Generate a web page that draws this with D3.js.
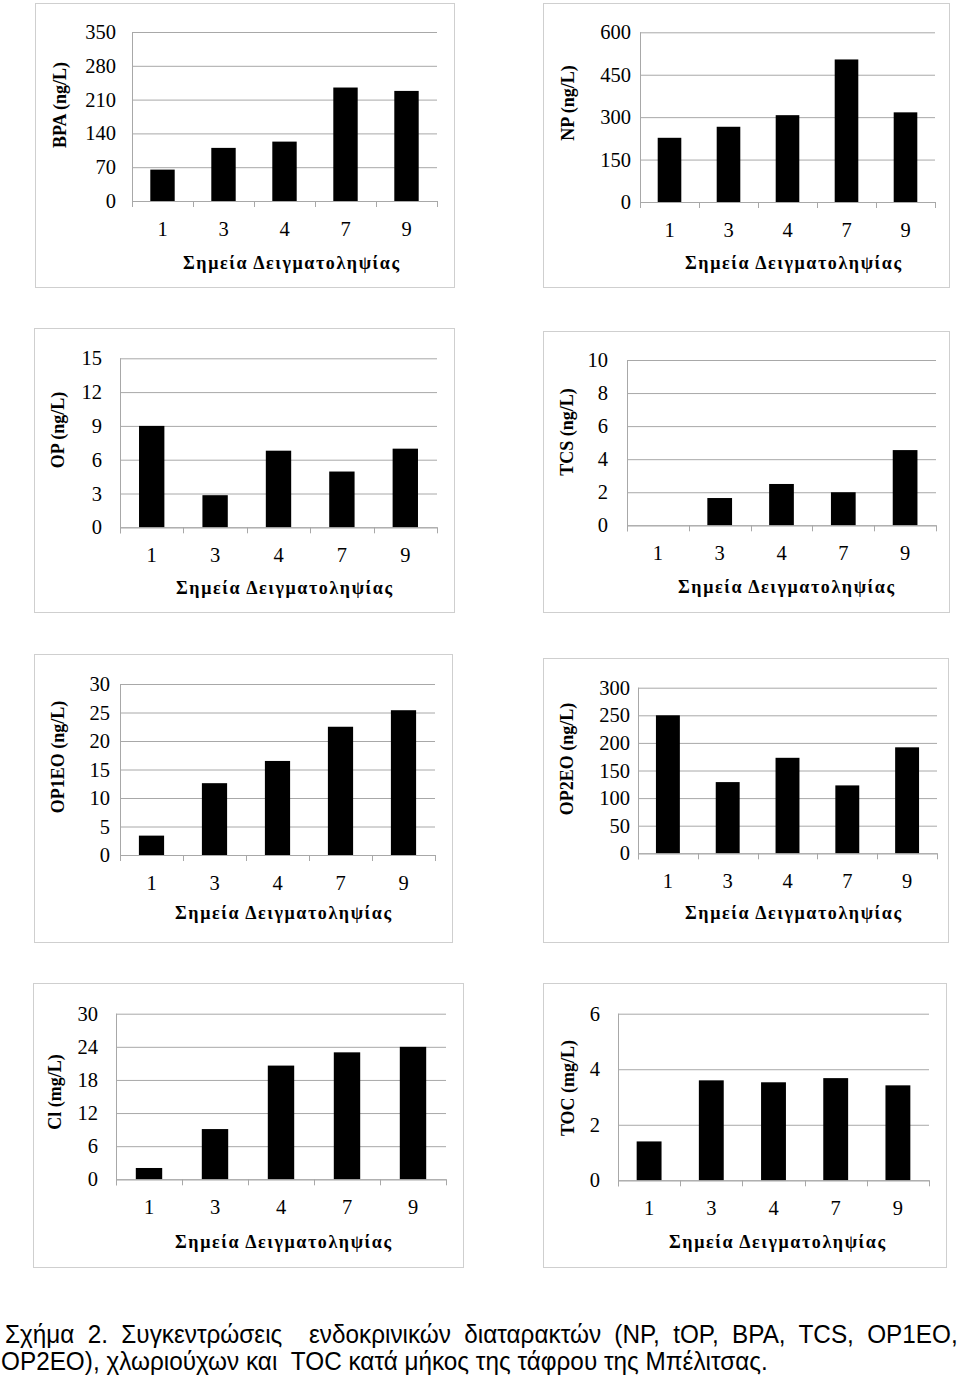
<!DOCTYPE html>
<html><head><meta charset="utf-8">
<script src="https://cdn.jsdelivr.net/npm/d3@7"></script>
<style>
html,body{margin:0;padding:0;background:#fff;}
svg{display:block;}
</style></head>
<body>
<svg id="chart" width="960" height="1379"></svg>
<script>
// ---- data ----
const categories = ["1", "3", "4", "7", "9"];
const bpaValues   = [65, 110, 123, 235, 228];
const npValues    = [227, 266, 307, 504, 317];
const opValues    = [9.0, 2.85, 6.8, 4.95, 6.98];
const tcsValues   = [0, 1.65, 2.5, 2.0, 4.55];
const op1eoValues = [3.4, 12.6, 16.5, 22.5, 25.4];
const op2eoValues = [250, 129, 173, 123, 192];
const clValues    = [2.05, 9.1, 20.6, 23.0, 24.0];
const tocValues   = [1.4, 3.6, 3.53, 3.68, 3.42];

const bpaTicks   = [0, 70, 140, 210, 280, 350];
const npTicks    = [0, 150, 300, 450, 600];
const opTicks    = [0, 3, 6, 9, 12, 15];
const tcsTicks   = [0, 2, 4, 6, 8, 10];
const op1eoTicks = [0, 5, 10, 15, 20, 25, 30];
const op2eoTicks = [0, 50, 100, 150, 200, 250, 300];
const clTicks    = [0, 6, 12, 18, 24, 30];
const tocTicks   = [0, 2, 4, 6];

const yTitles = ["BPA (ng/L)", "NP (ng/L)", "OP (ng/L)", "TCS (ng/L)",
                 "OP1EO (ng/L)", "OP2EO (ng/L)", "Cl (mg/L)", "TOC (mg/L)"];
const xTitle = "Σημεία Δειγματοληψίας";
const captionLine1 = "Σχήμα 2. Συγκεντρώσεις  ενδοκρινικών διαταρακτών (NP, tOP, BPA, TCS, OP1EO,";
const captionLine2 = "OP2EO), χλωριούχων και  TOC κατά μήκος της τάφρου της Μπέλιτσας.";

// ---- layout (positions only) ----
const panels = [
  {vals: bpaValues,   ticks: bpaTicks,   box:[35,3,454,287],    x0:132, x1:437, yT:32,    yB:201,    lblGap:16, ytx:60,  yty:105,  xtx:291, xty:263},
  {vals: npValues,    ticks: npTicks,    box:[543,3,949,287],   x0:640, x1:935, yT:32.3,  yB:202,    lblGap:9,  ytx:568, yty:103,  xtx:793, xty:263},
  {vals: opValues,    ticks: opTicks,    box:[34,328,454,612],  x0:120, x1:437, yT:358.3, yB:527.3,  lblGap:18, ytx:58,  yty:430,  xtx:284, xty:588},
  {vals: tcsValues,   ticks: tcsTicks,   box:[543,331,949,612], x0:627, x1:936, yT:360,   yB:525.3,  lblGap:19, ytx:567, yty:432,  xtx:786, xty:587},
  {vals: op1eoValues, ticks: op1eoTicks, box:[34,654,452,942],  x0:120, x1:435, yT:684,   yB:855,    lblGap:10, ytx:58,  yty:757,  xtx:283, xty:913},
  {vals: op2eoValues, ticks: op2eoTicks, box:[543,658,948,942], x0:638, x1:937, yT:687.7, yB:853.3,  lblGap:8,  ytx:567, yty:759,  xtx:793, xty:913},
  {vals: clValues,    ticks: clTicks,    box:[33,983,463,1267], x0:116, x1:446, yT:1013.7,yB:1179.3, lblGap:18, ytx:55,  yty:1092, xtx:283, xty:1242},
  {vals: tocValues,   ticks: tocTicks,   box:[543,983,946,1267],x0:618, x1:929, yT:1013.7,yB:1180.3, lblGap:18, ytx:568, yty:1088, xtx:777, xty:1242}
];

const svg = d3.select("#chart");
const serif = "'Liberation Serif','Times New Roman',serif";
const gridColor = "#a8a8a8";

panels.forEach((p, i) => {
  const g = svg.append("g");
  g.append("rect")
    .attr("x", p.box[0] + 0.5).attr("y", p.box[1] + 0.5)
    .attr("width", p.box[2] - p.box[0]).attr("height", p.box[3] - p.box[1])
    .attr("fill", "#fff").attr("stroke", "#cfcfcf").attr("stroke-width", 1);

  const y = d3.scaleLinear()
    .domain([0, d3.max(p.ticks)])
    .range([p.yB, p.yT]);
  const x = d3.scaleBand()
    .domain(categories)
    .range([p.x0, p.x1])
    .paddingInner(0.6).paddingOuter(0.3);

  const grid = g.append("g").attr("transform", `translate(${p.x0},0)`)
    .call(d3.axisLeft(y).tickValues(p.ticks).tickSize(-(p.x1 - p.x0)).tickFormat(""));
  grid.select(".domain").remove();
  grid.selectAll(".tick line").attr("stroke", gridColor).attr("stroke-width", 1);

  const yl = g.append("g").attr("transform", `translate(${p.x0},0)`)
    .call(d3.axisLeft(y).tickValues(p.ticks).tickSize(0).tickPadding(p.lblGap).tickFormat(d3.format("d")));
  yl.select(".domain").remove();
  yl.selectAll("text").attr("font-family", serif).attr("font-size", 20.5).attr("fill", "#000");

  g.append("line").attr("x1", p.x0 + 0.5).attr("x2", p.x0 + 0.5)
    .attr("y1", p.yT).attr("y2", p.yB + 6)
    .attr("stroke", gridColor).attr("stroke-width", 1);

  g.selectAll("rect.bar").data(p.vals).join("rect")
    .attr("class", "bar")
    .attr("x", (d, k) => x(categories[k]))
    .attr("width", x.bandwidth())
    .attr("y", d => y(d))
    .attr("height", d => y(0) - y(d))
    .attr("fill", "#000");

  const xb = g.append("g").attr("transform", `translate(0,${p.yB})`)
    .call(d3.axisBottom(x).tickSize(0).tickPadding(20));
  xb.select(".domain").attr("stroke", gridColor);
  xb.selectAll("text").attr("font-family", serif).attr("font-size", 20.5).attr("fill", "#000");
  const step = x.step();
  g.selectAll("line.xt").data(d3.range(categories.length + 1)).join("line")
    .attr("class", "xt")
    .attr("x1", k => Math.round(p.x0 + k * step) + 0.5)
    .attr("x2", k => Math.round(p.x0 + k * step) + 0.5)
    .attr("y1", p.yB).attr("y2", p.yB + 6)
    .attr("stroke", gridColor);

  g.append("text")
    .attr("transform", `translate(${p.ytx},${p.yty}) rotate(-90)`)
    .attr("text-anchor", "middle").attr("dominant-baseline", "central")
    .attr("font-family", serif).attr("font-weight", "bold").attr("font-size", 18)
    .text(yTitles[i]);

  g.append("text")
    .attr("x", p.xtx).attr("y", p.xty)
    .attr("text-anchor", "middle").attr("dominant-baseline", "central")
    .attr("font-family", serif).attr("font-weight", "bold").attr("font-size", 18)
    .attr("textLength", 216).attr("lengthAdjust", "spacing")
    .text(xTitle);
});

// caption (condensed sans: scaled horizontally, first line justified)
const capFont = "'Liberation Sans',Arial,sans-serif";
const capG = svg.append("g");
const c2 = capG.append("text").attr("x", 0).attr("y", 1370)
  .attr("font-family", capFont).attr("font-size", 25).attr("fill", "#000")
  .style("white-space", "pre").text(captionLine2);
const sx = 767 / c2.node().getComputedTextLength();
c2.attr("transform", `translate(1,0) scale(${sx},1)`);
const c1 = capG.append("text").attr("x", 0).attr("y", 1343)
  .attr("font-family", capFont).attr("font-size", 25).attr("fill", "#000")
  .style("white-space", "pre").text(captionLine1);
const natural = c1.node().getComputedTextLength();
const spaces = (captionLine1.match(/ /g) || []).length;
const target = 953 / sx;
c1.style("word-spacing", ((target - natural) / spaces) + "px")
  .attr("transform", `translate(5,0) scale(${sx},1)`);
</script>
</body></html>
